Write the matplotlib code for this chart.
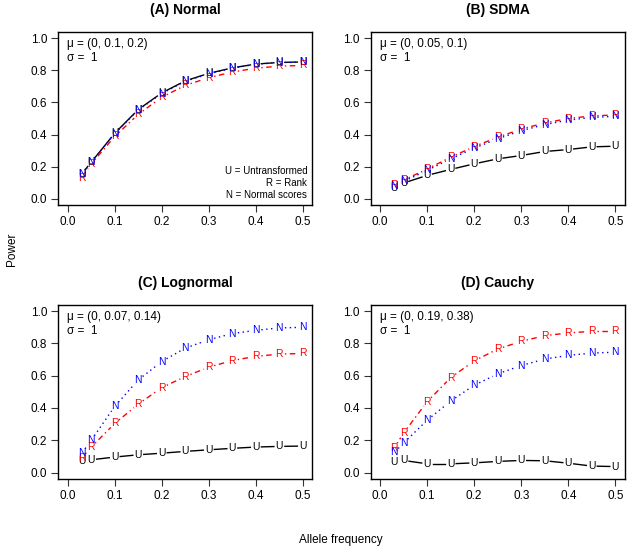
import numpy as np
import matplotlib
matplotlib.use("Agg")
import matplotlib.pyplot as plt

plt.rcParams['font.family'] = ['Liberation Sans', 'DejaVu Sans']

# allele frequencies
freq = [0.03, 0.05, 0.1, 0.15, 0.2, 0.25, 0.3, 0.35, 0.4, 0.45, 0.5]

titles = ["(A) Normal", "(B) SDMA", "(C) Lognormal", "(D) Cauchy"]
mu_text = ["\u03bc = (0, 0.1, 0.2)", "\u03bc = (0, 0.05, 0.1)",
           "\u03bc = (0, 0.07, 0.14)", "\u03bc = (0, 0.19, 0.38)"]

# power per method: U = untransformed, R = rank, N = normal scores
normal_U = [0.155, 0.227, 0.408, 0.556, 0.660, 0.735, 0.782, 0.816, 0.840, 0.850, 0.853]
normal_R = [0.130, 0.216, 0.388, 0.526, 0.633, 0.707, 0.755, 0.790, 0.814, 0.827, 0.831]
normal_N = [0.155, 0.227, 0.406, 0.553, 0.656, 0.732, 0.779, 0.814, 0.839, 0.849, 0.852]

sdma_U = [0.066, 0.097, 0.145, 0.182, 0.217, 0.248, 0.269, 0.294, 0.306, 0.323, 0.327]
sdma_R = [0.082, 0.115, 0.185, 0.258, 0.325, 0.383, 0.434, 0.472, 0.500, 0.516, 0.522]
sdma_N = [0.077, 0.108, 0.176, 0.248, 0.315, 0.373, 0.424, 0.462, 0.490, 0.507, 0.513]

logn_U = [0.069, 0.079, 0.096, 0.110, 0.120, 0.131, 0.141, 0.150, 0.158, 0.162, 0.164]
logn_R = [0.090, 0.158, 0.304, 0.424, 0.526, 0.595, 0.653, 0.694, 0.720, 0.734, 0.738]
logn_N = [0.120, 0.200, 0.410, 0.574, 0.688, 0.771, 0.823, 0.861, 0.881, 0.896, 0.900]

cauchy_U = [0.064, 0.075, 0.054, 0.054, 0.060, 0.069, 0.075, 0.073, 0.058, 0.040, 0.037]
cauchy_R = [0.152, 0.245, 0.439, 0.588, 0.692, 0.765, 0.813, 0.848, 0.865, 0.875, 0.875]
cauchy_N = [0.125, 0.183, 0.324, 0.443, 0.541, 0.611, 0.663, 0.703, 0.726, 0.740, 0.746]

panels = [(normal_U, normal_R, normal_N), (sdma_U, sdma_R, sdma_N),
          (logn_U, logn_R, logn_N), (cauchy_U, cauchy_R, cauchy_N)]

W, H = 632, 553
fig = plt.figure(figsize=(W / 100, H / 100), dpi=100)

# axes boxes in pixels: left, right, top, bottom
boxes = [(58.3, 312.3, 32, 205), (370.7, 624.7, 32, 205),
         (58.3, 312.3, 304.7, 479), (370.7, 624.7, 304.7, 479)]


def gap_line(ax, xs, ys, gap, **kw):
    # type="b" style: line segments with a gap around each point
    pts = ax.transData.transform(np.column_stack([xs, ys]))
    inv = ax.transData.inverted()
    for p0, p1 in zip(pts[:-1], pts[1:]):
        d = p1 - p0
        L = np.hypot(d[0], d[1])
        if L <= 2 * gap:
            continue
        u = d / L
        a = inv.transform(p0 + u * gap)
        b = inv.transform(p1 - u * gap)
        ax.plot([a[0], b[0]], [a[1], b[1]], **kw)


styles = [("U", "black", "-"), ("R", "red", (0, (1, 2.5, 4, 2.5))),
          ("N", "blue", (0, (1, 2.5)))]

for i, (l, r, t, b) in enumerate(boxes):
    ax = fig.add_axes([l / W, 1 - b / H, (r - l) / W, (b - t) / H])
    ax.set_xlim(-0.02, 0.52)
    ax.set_ylim(-0.04, 1.04)
    ax.set_xticks([0, 0.1, 0.2, 0.3, 0.4, 0.5])
    ax.set_xticklabels(["0.0", "0.1", "0.2", "0.3", "0.4", "0.5"])
    ax.set_yticks([0, 0.2, 0.4, 0.6, 0.8, 1.0])
    ax.set_yticklabels(["0.0", "0.2", "0.4", "0.6", "0.8", "1.0"])
    ax.tick_params(length=5, width=0.8, labelsize=8.5, pad=3, color="#333333")
    for s in ax.spines.values():
        s.set_linewidth(1.0)
    ax.set_title(titles[i], fontsize=10, fontweight="bold", pad=13)

    for (letter, col, ls), vals in zip(styles, panels[i]):
        gap_line(ax, freq, vals, 5.5, color=col, linestyle=ls, linewidth=1.0)
        for xv, yv in zip(freq, vals):
            ax.text(xv, yv, letter, color=col, fontsize=7.5, ha="center", va="center")

    ax.text(0.035, 0.965, mu_text[i], transform=ax.transAxes, fontsize=8.5,
            ha="left", va="top")
    ax.text(0.035, 0.885, "\u03c3 =  1", transform=ax.transAxes, fontsize=8.5,
            ha="left", va="top")

    if i == 0:
        ax.text(0.98, 0.127, "U = Untransformed\nR = Rank\nN = Normal scores",
                transform=ax.transAxes, fontsize=7, ha="right", va="center",
                linespacing=1.25)

fig.text(12 / W, 1 - 249 / H, "Power", rotation=90, fontsize=8.5,
         ha="center", va="center")
fig.text(341 / W, 1 - 540 / H, "Allele frequency", fontsize=8.5,
         ha="center", va="center")

fig.savefig("out.png", dpi=100)
